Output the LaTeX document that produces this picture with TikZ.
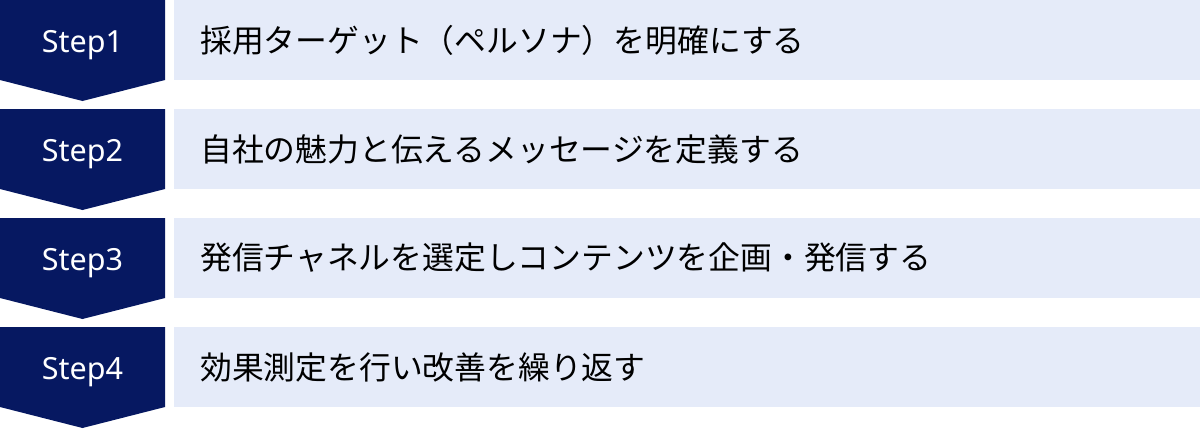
\documentclass[tikz,border=0pt]{standalone}
\usepackage{fontspec}
\setmainfont{Noto Sans}
\newfontfamily\jpfont{Noto Sans CJK JP}
\definecolor{navy}{RGB}{6,24,97}
\definecolor{lightbg}{RGB}{229,235,249}
\begin{document}
\begin{tikzpicture}[x=1pt,y=-1pt,
  stepshape/.style={fill=navy,draw=none},
  barbox/.style={fill=lightbg,draw=none},
  steplabel/.style={text=white,inner sep=0pt,anchor=base,font=\fontsize{30.5}{33}\selectfont},
  bartext/.style={text=black,inner sep=0pt,anchor=west,font=\jpfont\fontsize{31.8}{34}\selectfont}]
\useasboundingbox (0,0) rectangle (1200,429);
\foreach \i/\t in {1/採用ターゲット（ペルソナ）を明確にする,2/自社の魅力と伝えるメッセージを定義する,3/発信チャネルを選定しコンテンツを企画・発信する,4/効果測定を行い改善を繰り返す}{
  \pgfmathsetmacro{\y}{(\i-1)*109}
  \fill[stepshape] (0,\y) -- (165,\y) -- (165,\y+80) -- (82.5,\y+101) -- (0,\y+80) -- cycle;
  \fill[barbox] (174,\y) rectangle (1200,\y+80);
  \node[steplabel] (s\i) at (82.5,\y+52) {Step\i};
  \node[bartext] (t\i) at (200,\y+40) {\t};
}
\end{tikzpicture}
\end{document}
